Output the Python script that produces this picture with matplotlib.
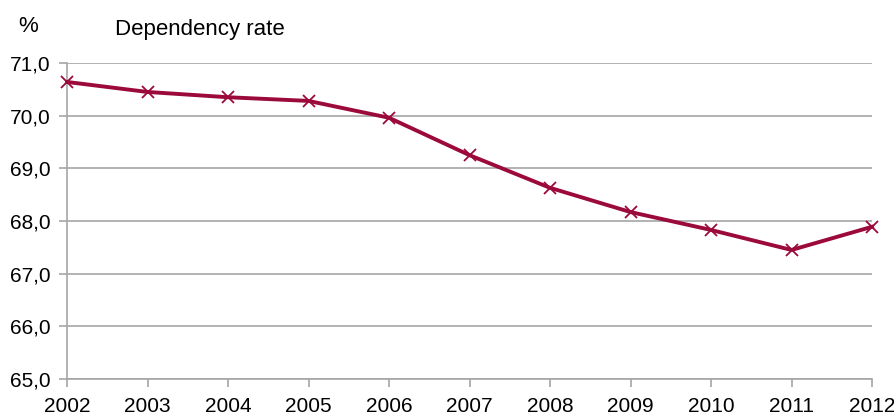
import matplotlib.pyplot as plt
from matplotlib import font_manager
from matplotlib.ticker import FuncFormatter

years = [2002, 2003, 2004, 2005, 2006, 2007, 2008, 2009, 2010, 2011, 2012]
dependency_rate = [70.64, 70.45, 70.35, 70.28, 69.96, 69.25, 68.63, 68.17, 67.83, 67.45, 67.89]
y_ticks = [65.0, 66.0, 67.0, 68.0, 69.0, 70.0, 71.0]

names = {f.name for f in font_manager.fontManager.ttflist}
family = "Liberation Sans Narrow" if "Liberation Sans Narrow" in names else "Liberation Sans"
plt.rcParams["font.family"] = [family, "DejaVu Sans"]

LINE = "#9B0A3A"
GREY = "#A6A6A6"

fig = plt.figure(figsize=(8.95, 4.18), dpi=100)
ax = fig.add_axes([67 / 895, 1 - 379 / 418, (872 - 67) / 895, (379 - 63) / 418])

ax.plot(years, dependency_rate, color=LINE, linewidth=2.8, marker="x",
        markersize=8, markeredgewidth=1.3, clip_on=False, zorder=3)

ax.set_xlim(years[0], years[-1])
ax.set_ylim(y_ticks[0], y_ticks[-1])
ax.set_xticks(years)
ax.set_yticks(y_ticks)
ax.yaxis.set_major_formatter(FuncFormatter(lambda v, _: f"{v:.1f}".replace(".", ",")))
ax.grid(axis="y", color=GREY, linewidth=1.2)
ax.set_axisbelow(True)

for side in ("top", "right"):
    ax.spines[side].set_visible(False)
for side in ("left", "bottom"):
    ax.spines[side].set_color(GREY)
    ax.spines[side].set_linewidth(1.2)

ax.tick_params(axis="x", direction="out", length=6, width=1.2, color=GREY,
               labelsize=15, pad=7)
ax.tick_params(axis="y", direction="out", length=6, width=1.2, color=GREY,
               labelsize=15, pad=6)

fig.text(18 / 895, 1 - 27 / 418, "%", fontsize=16, ha="left", va="center")
fig.text(115 / 895, 1 - 30 / 418, "Dependency rate", fontsize=16, ha="left", va="center")

fig.savefig("out.png", dpi=100)
